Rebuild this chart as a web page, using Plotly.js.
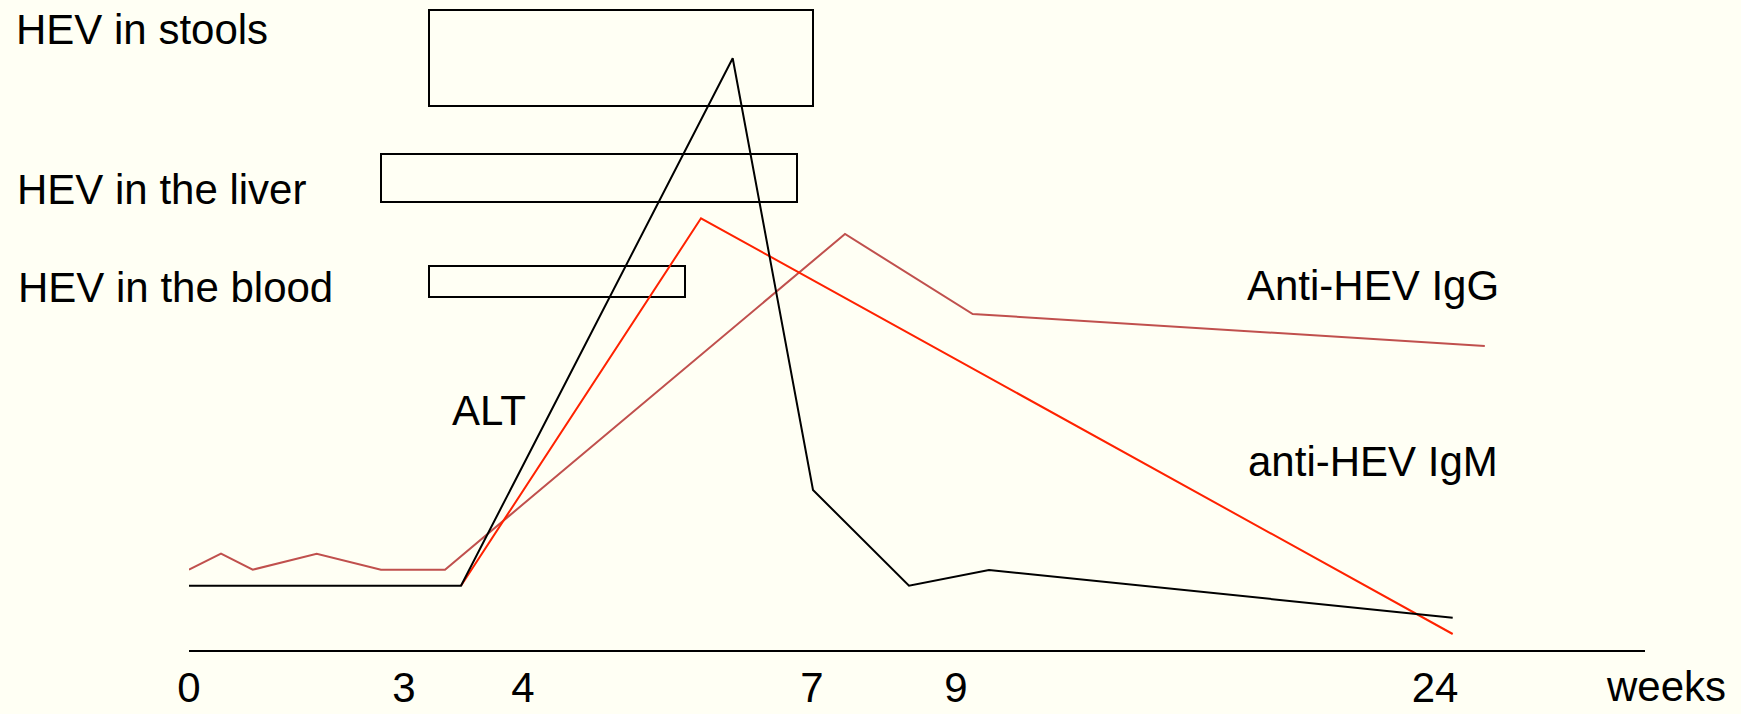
<!DOCTYPE html>
<html>
<head>
<meta charset="utf-8">
<script src="https://cdn.plot.ly/plotly-3.0.1.min.js"></script>
<style>
  html, body { margin: 0; padding: 0; background: #FFFFF4; }
  #chart { width: 1741px; height: 714px; }
</style>
</head>
<body>
<div id="chart"></div>
<script>
// Timeline position (chart units along the horizontal axis) and relative level (chart units)
const tickPositions = [0, 21.5, 33.4, 62.3, 76.7, 124.6];
const tickLabels = ['0', '3', '4', '7', '9', '24'];

const altX = [0, 27.2, 54.37, 62.4, 72.0, 80.0, 126.37];
const altY = [6.43, 6.43, 59.17, 16.0, 6.43, 8.0, 3.23];

const igmX = [27.2, 51.2, 126.37];
const igmY = [6.43, 43.17, 1.6];

const iggX = [0, 3.2, 6.37, 12.77, 19.2, 25.6, 65.6, 78.37, 129.58];
const iggY = [8.03, 9.63, 8.03, 9.63, 8.03, 8.03, 41.6, 33.6, 30.4];

// Periods of virus detection: start, end, lower level, upper level
const periodNames = ['HEV in stools', 'HEV in the liver', 'HEV in the blood'];
const periodStart = [24.0, 19.2, 24.0];
const periodEnd = [62.4, 60.8, 49.6];
const periodLow = [54.4, 44.8, 35.3];
const periodHigh = [64.0, 49.6, 38.4];

const seriesNames = ['ALT', 'Anti-HEV IgG', 'anti-HEV IgM'];

const X_RANGE = [0, 145.6];
const Y_RANGE = [0, 65];
const FONT = 'Arial, "Liberation Sans", sans-serif';

// convert chart units to paper fractions so labels outside the axis range stay visible
const px = v => (v - X_RANGE[0]) / (X_RANGE[1] - X_RANGE[0]);
const py = v => (v - Y_RANGE[0]) / (Y_RANGE[1] - Y_RANGE[0]);

const traces = [
  { x: iggX, y: iggY, mode: 'lines', line: { color: '#C0504D', width: 2 }, name: seriesNames[1] },
  { x: igmX, y: igmY, mode: 'lines', line: { color: '#FF2200', width: 2 }, name: seriesNames[2] },
  { x: altX, y: altY, mode: 'lines', line: { color: '#000000', width: 2 }, name: seriesNames[0] }
];

const shapes = periodNames.map((n, i) => ({
  type: 'rect', xref: 'x', yref: 'y',
  x0: periodStart[i], x1: periodEnd[i], y0: periodLow[i], y1: periodHigh[i],
  line: { color: '#000000', width: 2 }, fillcolor: 'rgba(0,0,0,0)', layer: 'below'
}));

function label(text, x, y) {
  return {
    text: text, x: px(x), y: py(y), xref: 'paper', yref: 'paper',
    xanchor: 'left', yanchor: 'middle', showarrow: false,
    font: { family: FONT, size: 42, color: '#000000' }
  };
}

const labelY = [62.0, 46.0, 36.3];
const labelX = [-17.5, -17.4, -17.3];
const annotations = periodNames.map((n, i) => label(n, labelX[i], labelY[i]));
annotations.push(
  label(seriesNames[0], 26.1, 24.0),
  label(seriesNames[1], 105.55, 36.5),
  label(seriesNames[2], 105.7, 18.83),
  label('weeks', 141.5, -3.67)
);

const layout = {
  width: 1741, height: 714,
  margin: { l: 189, r: 96, t: 0, b: 64, pad: 0 },
  paper_bgcolor: '#FFFFF4', plot_bgcolor: '#FFFFF4',
  showlegend: false,
  xaxis: {
    range: X_RANGE, showgrid: false, zeroline: false,
    showline: true, linecolor: '#000000', linewidth: 2,
    ticks: '', tickmode: 'array', tickvals: tickPositions, ticktext: tickLabels,
    tickfont: { family: FONT, size: 42, color: '#000000' },
    ticklabelstandoff: 0, fixedrange: true
  },
  yaxis: { range: Y_RANGE, visible: false, showgrid: false, zeroline: false, fixedrange: true },
  shapes: shapes,
  annotations: annotations
};

Plotly.newPlot('chart', traces, layout, { staticPlot: true, displayModeBar: false });
</script>
</body>
</html>
